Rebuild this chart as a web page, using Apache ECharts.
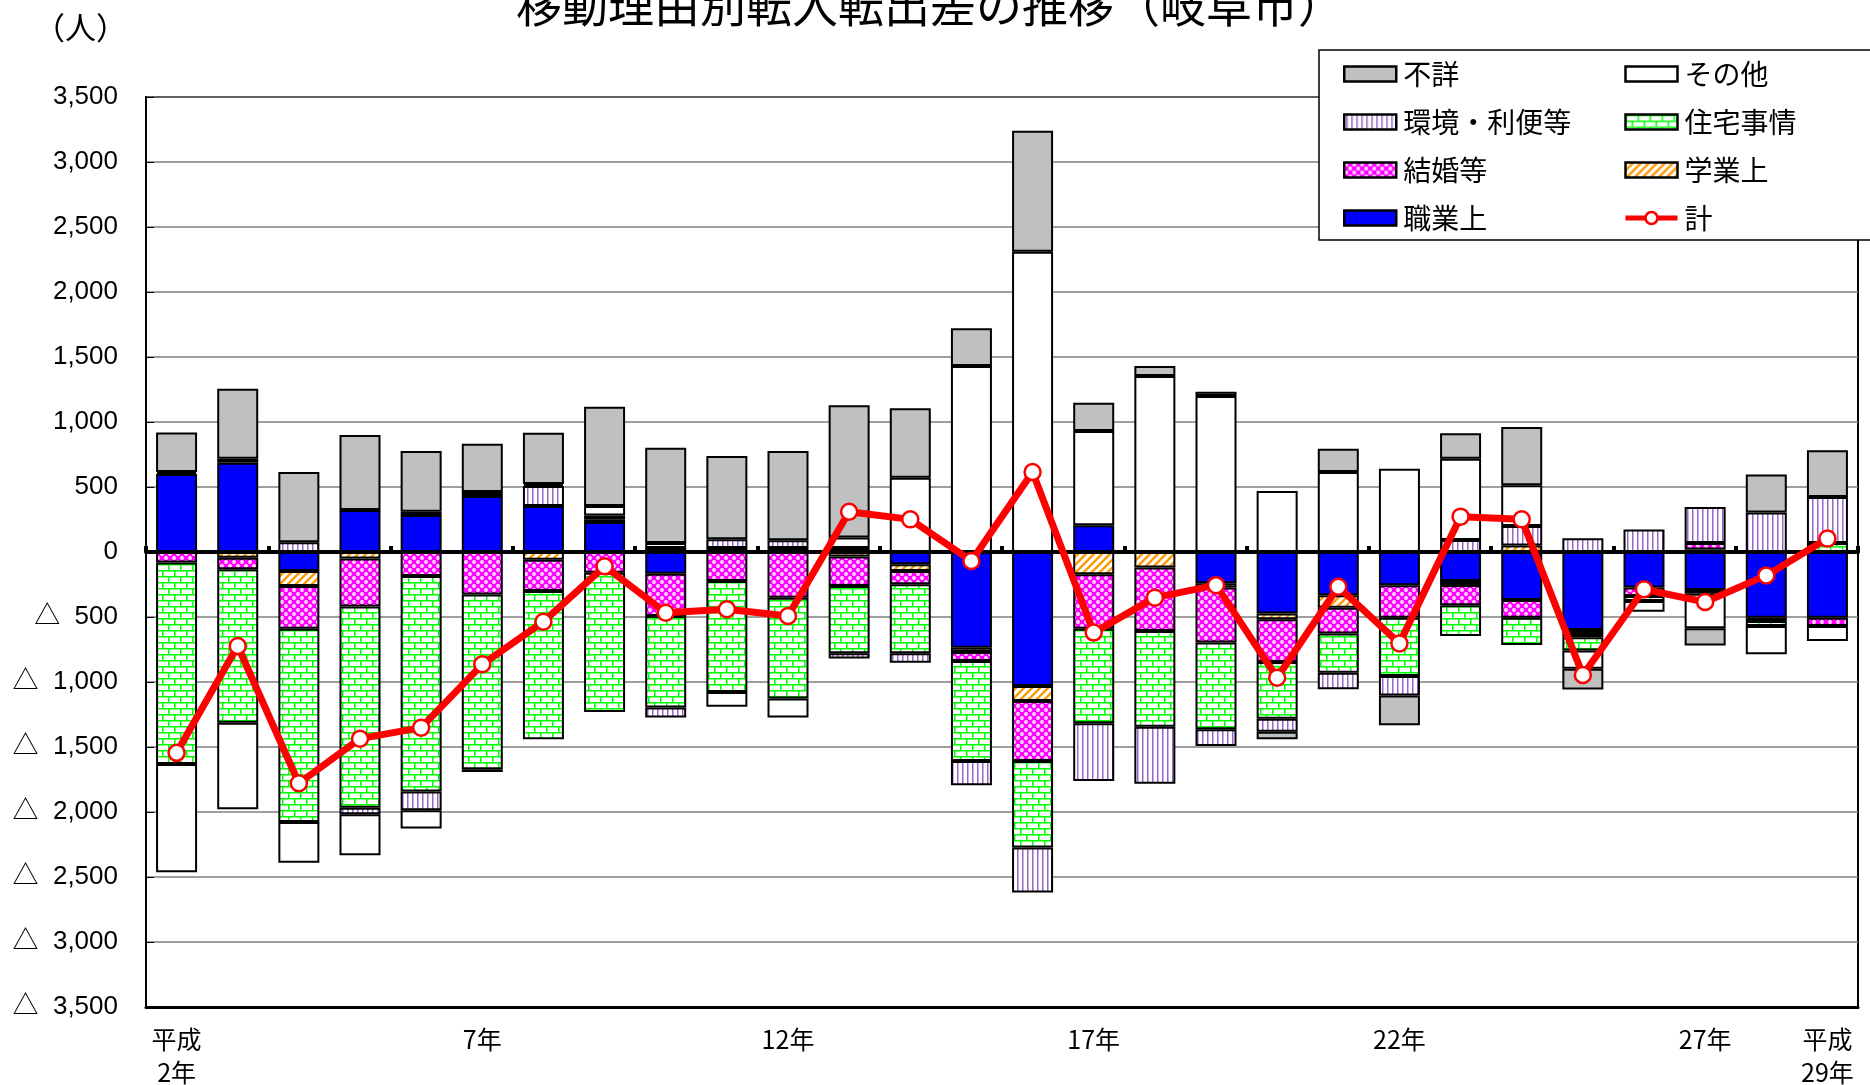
<!DOCTYPE html>
<html>
<head>
<meta charset="utf-8">
<title>移動理由別転入転出差の推移（岐阜市）</title>
<script src="https://cdn.jsdelivr.net/npm/echarts@6/dist/echarts.min.js"></script>
<style>
  html, body { margin: 0; padding: 0; background: #fff; }
  #chart { width: 1870px; height: 1085px; }
</style>
</head>
<body>
<div id="chart"></div>
<script>
// 年（平成2年〜29年）
const years = [
  '平成2年', '平成3年', '平成4年', '平成5年', '平成6年', '平成7年', '平成8年',
  '平成9年', '平成10年', '平成11年', '平成12年', '平成13年', '平成14年', '平成15年',
  '平成16年', '平成17年', '平成18年', '平成19年', '平成20年', '平成21年', '平成22年',
  '平成23年', '平成24年', '平成25年', '平成26年', '平成27年', '平成28年', '平成29年'
];
// 横軸の目盛ラベル
const tickLabels = [
  '平成\n2年', '', '', '', '', '7年', '', '', '', '', '12年', '', '', '',
  '', '17年', '', '', '', '', '22年', '', '', '', '', '27年', '', '平成\n29年'
];

// 移動理由別の転入転出差（人）
const shokugyo = [600, 687, -146, 323, 285, 431, 354, 231, -167, 0, 0, 30, -95, -736,
  -1031, 205, 0, -241, -474, -333, -256, -223, -369, -600, -274, -292, -505, -505];
const gakugyo = [15, -45, -116, -50, 25, 0, -60, 20, 30, 30, 30, -35, -51, -33,
  -115, -172, -120, -33, -44, -95, 0, -30, 50, -30, 0, 20, 0, 0];
const kekkon = [-80, -88, -328, -370, -185, -326, -240, -159, -325, -223, -351, -227, -103, -69,
  -462, -418, -488, -423, -328, -198, -249, -157, -136, -25, -64, 50, -25, -64];
const jutaku = [-1550, -1180, -1487, -1547, -1658, -1346, -1141, -1072, -705, -854, -775, -517, -530, -770,
  -666, -728, -736, -667, -436, -302, -449, -236, -210, -103, -39, -30, -39, 70];
const kankyo = [0, 30, 75, -51, -144, -20, 154, 30, -77, 69, 60, -41, -72, -187,
  -346, -443, -438, -128, -100, -128, -149, 92, 150, 105, 174, 276, 303, 354];
const sonota = [-833, -666, -313, -315, -139, 30, 15, 72, 40, -113, -148, 82, 572, 1431,
  2310, 726, 1354, 1200, 469, 615, 641, 626, 313, -141, -82, -264, -218, -116];
const fusho = [305, 539, 540, 577, 467, 372, 395, 764, 731, 639, 687, 1016, 533, 290,
  931, 218, 77, 33, -59, 180, -230, 195, 449, -159, 0, -133, 294, 359];
const total = [-1545, -723, -1779, -1436, -1351, -864, -536, -110, -467, -441, -492, 310, 251, -69,
  615, -620, -351, -255, -967, -267, -703, 272, 251, -946, -287, -385, -180, 103];

const JP = '"Noto Sans CJK JP", "Noto Sans", sans-serif';

// 塗りつぶしパターン
function makePattern(w, h, draw) {
  const c = document.createElement('canvas');
  c.width = w;
  c.height = h;
  const ctx = c.getContext('2d');
  draw(ctx, w, h);
  return { image: c, repeat: 'repeat' };
}

const orangeHatch = makePattern(8, 8, (ctx) => {
  ctx.fillStyle = '#fff';
  ctx.fillRect(0, 0, 8, 8);
  ctx.strokeStyle = '#FF9900';
  ctx.lineWidth = 2.4;
  ctx.beginPath();
  ctx.moveTo(-2, 10); ctx.lineTo(10, -2);
  ctx.moveTo(-2, 2); ctx.lineTo(2, -2);
  ctx.moveTo(6, 10); ctx.lineTo(10, 6);
  ctx.stroke();
});

const magentaDots = makePattern(8, 8, (ctx) => {
  ctx.fillStyle = '#FF00FF';
  ctx.fillRect(0, 0, 8, 8);
  ctx.fillStyle = '#fff';
  [[2, 2], [6, 6]].forEach(([x, y]) => {
    ctx.beginPath();
    ctx.arc(x, y, 1.9, 0, Math.PI * 2);
    ctx.fill();
  });
  ctx.fillStyle = '#FF00FF';
  [[2, 2], [6, 6]].forEach(([x, y]) => {
    ctx.beginPath();
    ctx.arc(x, y, 0.6, 0, Math.PI * 2);
    ctx.fill();
  });
});

const greenBrick = makePattern(12, 12, (ctx) => {
  ctx.fillStyle = '#fff';
  ctx.fillRect(0, 0, 12, 12);
  ctx.fillStyle = '#00FF00';
  ctx.fillRect(0, 0, 12, 1.5);
  ctx.fillRect(0, 6, 12, 1.5);
  ctx.fillRect(0, 0, 1.5, 6);
  ctx.fillRect(6, 6, 1.5, 6);
});

const purpleStripe = makePattern(5, 4, (ctx) => {
  ctx.fillStyle = '#fff';
  ctx.fillRect(0, 0, 5, 4);
  ctx.fillStyle = '#9966CC';
  ctx.fillRect(2, 0, 1.5, 4);
});

function barSeries(name, data, color) {
  return {
    name,
    type: 'bar',
    stack: 'reason',
    barWidth: 41,
    data: data.map((v) => (v === 0 ? '-' : v)),
    itemStyle: { color, borderColor: '#000', borderWidth: 2 },
    z: 2,
  };
}

function fmtNum(v) {
  return String(v).replace(/\B(?=(\d{3})+(?!\d))/g, ',');
}

const legendBase = {
  orient: 'vertical',
  top: 60,
  padding: 0,
  itemWidth: 52,
  itemHeight: 15,
  itemGap: 20,
  z: 20,
  selectedMode: false,
  itemStyle: { borderWidth: 2.5 },
  textStyle: { fontSize: 28, color: '#000', fontFamily: JP, padding: [0, 0, 0, 2] },
};

const chart = echarts.init(document.getElementById('chart'));
chart.setOption({
  animation: false,
  backgroundColor: '#fff',
  textStyle: { fontFamily: JP },
  grid: {
    left: 146,
    right: 12,
    top: 97,
    bottom: 78,
    outerBoundsMode: 'none',
    containLabel: false,
    show: true,
    borderColor: '#000',
    borderWidth: 2,
  },
  graphic: [
    {
      type: 'text',
      x: 930,
      y: 5,
      style: {
        text: '移動理由別転入転出差の推移（岐阜市）',
        fontSize: 46,
        fontFamily: JP,
        fill: '#000',
        align: 'center',
        verticalAlign: 'middle',
      },
    },
    {
      type: 'text',
      x: 34,
      y: 27,
      style: {
        text: '（人）',
        fontSize: 31,
        fontFamily: JP,
        fill: '#000',
        align: 'left',
        verticalAlign: 'middle',
      },
    },
    {
      type: 'rect',
      z: 10,
      shape: { x: 1319, y: 50, width: 580, height: 190 },
      style: { fill: '#fff', stroke: '#000', lineWidth: 1.5 },
    },
  ],
  legend: [
    Object.assign({}, legendBase, {
      left: 1343,
      data: [
        { name: '不詳', icon: 'rect' },
        { name: '環境・利便等', icon: 'rect' },
        { name: '結婚等', icon: 'rect' },
        { name: '職業上', icon: 'rect' },
      ],
    }),
    Object.assign({}, legendBase, {
      left: 1623,
      lineStyle: { width: 5 },
      data: [
        { name: 'その他', icon: 'rect' },
        { name: '住宅事情', icon: 'rect' },
        { name: '学業上', icon: 'rect' },
        { name: '計' },
      ],
    }),
  ],
  xAxis: [
    {
      type: 'category',
      data: years,
      position: 'bottom',
      axisLine: { onZero: false, lineStyle: { color: '#000', width: 3 } },
      axisTick: { show: false },
      axisLabel: {
        interval: 0,
        formatter: (v, i) => tickLabels[i],
        fontSize: 25,
        lineHeight: 33,
        color: '#000',
        margin: 16,
        fontFamily: JP,
      },
      splitLine: { show: false },
    },
    {
      type: 'category',
      data: years,
      position: 'top',
      z: 3,
      axisLine: { onZero: true, lineStyle: { color: '#000', width: 4 } },
      axisTick: { show: true, inside: false, length: 6, lineStyle: { color: '#000', width: 4 } },
      axisLabel: { show: false },
      splitLine: { show: false },
    },
  ],
  yAxis: {
    type: 'value',
    min: -3500,
    max: 3500,
    interval: 500,
    axisLine: { show: true, lineStyle: { color: '#000', width: 2 } },
    axisTick: { show: true, inside: true, length: 8, lineStyle: { color: '#000' } },
    axisLabel: {
      fontSize: 26,
      color: '#000',
      margin: 28,
      fontFamily: '"Liberation Sans", "Noto Sans CJK JP", sans-serif',
      formatter: (v) => (v < 0 ? '△  ' + fmtNum(-v) : fmtNum(v)),
    },
    splitLine: { lineStyle: { color: '#7f7f7f', width: 1.5 } },
  },
  series: [
    barSeries('職業上', shokugyo, '#0000FF'),
    barSeries('学業上', gakugyo, orangeHatch),
    barSeries('結婚等', kekkon, magentaDots),
    barSeries('住宅事情', jutaku, greenBrick),
    barSeries('環境・利便等', kankyo, purpleStripe),
    barSeries('その他', sonota, '#FFFFFF'),
    barSeries('不詳', fusho, '#C0C0C0'),
    {
      name: '計',
      type: 'line',
      data: total,
      z: 5,
      symbol: 'circle',
      symbolSize: 16,
      lineStyle: { color: '#FF0000', width: 7 },
      itemStyle: { color: '#FFFFFF', borderColor: '#FF0000', borderWidth: 2.5 },
    },
  ],
});
</script>
</body>
</html>
